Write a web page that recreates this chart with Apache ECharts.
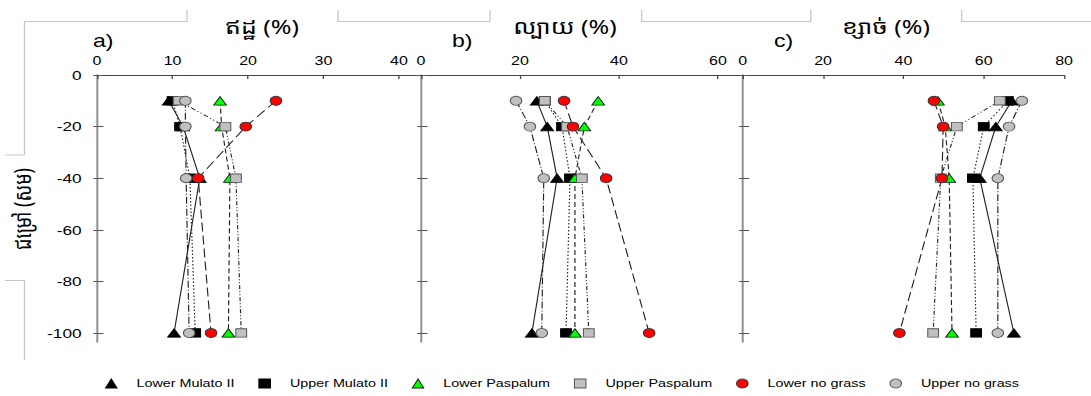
<!DOCTYPE html>
<html>
<head>
<meta charset="utf-8">
<script src="https://cdn.jsdelivr.net/npm/echarts@6.0.0/dist/echarts.min.js"></script>
<style>
  html, body { margin: 0; padding: 0; background: #fff; overflow: hidden; width: 1091px; height: 396px; }
  /* the figure is laid out on a narrower canvas and widened, giving the wide type of the original figure */
  #chart { width: 852px; height: 396px; transform: scaleX(1.28052); transform-origin: 0 0; }
</style>
</head>
<body>
<div id="chart"></div>
<script>
// Sampling depth (cm)
const depths = [-10, -20, -40, -100];
const depthTicks = [0, -20, -40, -60, -80, -100];

// Treatments
const treatmentNames = ['Lower Mulato II', 'Upper Mulato II', 'Lower Paspalum', 'Upper Paspalum', 'Lower no grass', 'Upper no grass'];

// Clay (%)
const clayTicks = [0, 10, 20, 30, 40];
const clayLowerMulato = [9.5, 11.4, 13.6, 10.2];
const clayUpperMulato = [10.0, 11.0, 12.3, 13.0];
const clayLowerPaspalum = [16.3, 16.5, 17.6, 17.4];
const clayUpperPaspalum = [10.8, 17.0, 18.4, 19.1];
const clayLowerNoGrass = [23.7, 19.7, 13.4, 15.1];
const clayUpperNoGrass = [11.7, 11.7, 11.8, 12.2];

// Loam (%)
const loamTicks = [0, 20, 40, 60];
const loamLowerMulato = [23.4, 25.5, 27.5, 22.4];
const loamUpperMulato = [25.0, 28.5, 30.1, 29.3];
const loamLowerPaspalum = [35.8, 33.0, 31.1, 31.1];
const loamUpperPaspalum = [25.0, 29.5, 32.5, 33.9];
const loamLowerNoGrass = [28.9, 30.7, 37.4, 46.1];
const loamUpperNoGrass = [19.2, 22.0, 24.8, 24.4];

// Sand (%)
const sandTicks = [0, 20, 40, 60, 80];
const sandLowerMulato = [67.0, 63.0, 59.0, 67.5];
const sandUpperMulato = [66.0, 60.0, 57.3, 58.1];
const sandLowerPaspalum = [48.6, 50.4, 51.4, 52.1];
const sandUpperPaspalum = [64.0, 53.3, 49.3, 47.4];
const sandLowerNoGrass = [47.6, 49.9, 49.6, 39.0];
const sandUpperNoGrass = [69.5, 66.3, 63.5, 63.5];

const LATIN = '"Liberation Sans", Arial, sans-serif';
const KHMER = '"Noto Sans Khmer", "Khmer OS", "Liberation Sans", sans-serif';

// Marker and line look for each treatment
const looks = [
  { icon: 'triangle', size: [10, 8.5], fill: '#000000', border: '#000000', dash: 'solid' },
  { icon: 'rect', size: [8.4, 8.4], fill: '#000000', border: '#000000', dash: [1.5, 2] },
  { icon: 'triangle', size: [10, 8.5], fill: '#00ff00', border: '#1a1a1a', dash: [5, 3] },
  { icon: 'rect', size: [8.4, 8.4], fill: '#c0c0c0', border: '#555555', dash: [4, 2, 1, 2, 1, 2] },
  { icon: 'circle', size: 9, fill: '#ff0000', border: '#333333', dash: [9, 4] },
  { icon: 'circle', size: 9, fill: '#c0c0c0', border: '#555555', dash: [7, 2, 1, 2] }
];

const panels = [
  { title: 'ឥដ្ឋ (%)', titleX: 204.6, tag: 'a)', tagX: 72.6, left: 75.8, width: 252.3, max: 42.8, ticks: clayTicks,
    values: [clayLowerMulato, clayUpperMulato, clayLowerPaspalum, clayUpperPaspalum, clayLowerNoGrass, clayUpperNoGrass] },
  { title: 'ល្បាយ (%)', titleX: 441.2, tag: 'b)', tagX: 353.0, left: 328.8, width: 251.2, max: 65, ticks: loamTicks,
    values: [loamLowerMulato, loamUpperMulato, loamLowerPaspalum, loamUpperPaspalum, loamLowerNoGrass, loamUpperNoGrass] },
  { title: 'ខ្សាច់ (%)', titleX: 691.9, tag: 'c)', tagX: 604.4, left: 580.0, width: 251.0, max: 80, ticks: sandTicks,
    values: [sandLowerMulato, sandUpperMulato, sandLowerPaspalum, sandUpperPaspalum, sandLowerNoGrass, sandUpperNoGrass] }
];

const grid = [], xAxis = [], yAxis = [], markerSeries = [], lineSeries = [];

panels.forEach((p, pi) => {
  grid.push({ left: p.left, width: p.width, top: 75, height: 267, containLabel: false, outerBoundsMode: 'none' });
  xAxis.push({
    gridIndex: pi, type: 'value', position: 'top', min: 0, max: p.max,
    axisLine: { show: true, onZero: false, lineStyle: { color: '#444', width: 1 } },
    axisTick: { show: true, inside: true, length: 4, customValues: p.ticks, lineStyle: { color: '#444', width: 1 } },
    axisLabel: { show: true, customValues: p.ticks, margin: 8, fontSize: 12.5, color: '#000', fontFamily: LATIN },
    splitLine: { show: false }
  });
  // depth axis with outward ticks (and labels on the first panel)
  yAxis.push({
    gridIndex: pi, type: 'value', position: 'left', min: -103.5, max: 0,
    axisLine: { show: true, onZero: false, lineStyle: { color: '#8c8c8c', width: 1.5 } },
    axisTick: { show: true, inside: false, length: 3, customValues: depthTicks, lineStyle: { color: '#555', width: 1 } },
    axisLabel: { show: pi === 0, customValues: depthTicks, margin: 12, fontSize: 13.5, color: '#000', fontFamily: LATIN },
    splitLine: { show: false }
  });
  // twin axis carrying the inward half of each cross tick
  yAxis.push({
    gridIndex: pi, type: 'value', position: 'left', min: -103.5, max: 0,
    axisLine: { show: false },
    axisTick: { show: true, inside: true, length: 5, customValues: depthTicks, lineStyle: { color: '#555', width: 1 } },
    axisLabel: { show: false },
    splitLine: { show: false }
  });

  p.values.forEach((vals, si) => {
    const lk = looks[si];
    const pts = vals.map((v, j) => [v, depths[j]]);
    markerSeries.push({
      type: 'scatter', name: treatmentNames[si], xAxisIndex: pi, yAxisIndex: pi * 2,
      data: pts, symbol: lk.icon, symbolSize: lk.size, z: 3,
      itemStyle: { color: lk.fill, borderColor: lk.border, borderWidth: 0.8, opacity: 1 },
      emphasis: { disabled: true }
    });
    lineSeries.push({
      type: 'line', name: treatmentNames[si], xAxisIndex: pi, yAxisIndex: pi * 2,
      data: pts, symbol: 'none', z: 2, silent: true,
      lineStyle: { color: '#222', width: 0.9, type: lk.dash },
      emphasis: { disabled: true }
    });
  });
});

const frame = { stroke: '#c6c6c6', lineWidth: 1, fill: 'none' };
const graphic = [
  // text-box edges around the panel headings
  { type: 'polyline', shape: { points: [[19.1, 155], [19.1, 21.5], [146.0, 21.5], [146.0, 10]] }, style: frame },
  { type: 'polyline', shape: { points: [[264.0, 10], [264.0, 21.5], [382.7, 21.5], [382.7, 10]] }, style: frame },
  { type: 'polyline', shape: { points: [[501.1, 10], [501.1, 21.5], [633.1, 21.5], [633.1, 10]] }, style: frame },
  { type: 'polyline', shape: { points: [[751.0, 10], [751.0, 21.5], [852, 21.5]] }, style: frame },
  { type: 'polyline', shape: { points: [[3.9, 155], [19.1, 155]] }, style: frame },
  { type: 'polyline', shape: { points: [[3.9, 280.5], [19.1, 280.5], [19.1, 360]] }, style: frame },
  // y-axis title
  { type: 'text', x: 17.2, y: 209, rotation: Math.PI / 2,
    style: { text: 'ជម្រៅ (សម)', font: '18px ' + KHMER, fill: '#000', align: 'center', verticalAlign: 'middle' } }
];
panels.forEach(p => {
  graphic.push({ type: 'text', x: p.titleX, y: 27,
    style: { text: p.title, font: '19.5px ' + KHMER, fill: '#000', align: 'center', verticalAlign: 'middle' } });
  graphic.push({ type: 'text', x: p.tagX, y: 40,
    style: { text: p.tag, font: '18px ' + LATIN, fill: '#000', align: 'left', verticalAlign: 'middle' } });
});

const chart = echarts.init(document.getElementById('chart'), null, { renderer: 'svg' });
chart.setOption({
  animation: false,
  backgroundColor: '#ffffff',
  grid, xAxis, yAxis,
  legend: {
    left: 77, top: 373, orient: 'horizontal',
    itemWidth: 9, itemHeight: 9, itemGap: 18.7,
    itemStyle: { borderWidth: 0.8 },
    textStyle: { fontSize: 11.2, color: '#000', fontFamily: LATIN, padding: [0, 0, 0, 10.2] },
    data: treatmentNames.map((n, i) => ({ name: n, icon: looks[i].icon }))
  },
  graphic,
  series: markerSeries.concat(lineSeries)
});
</script>
</body>
</html>
